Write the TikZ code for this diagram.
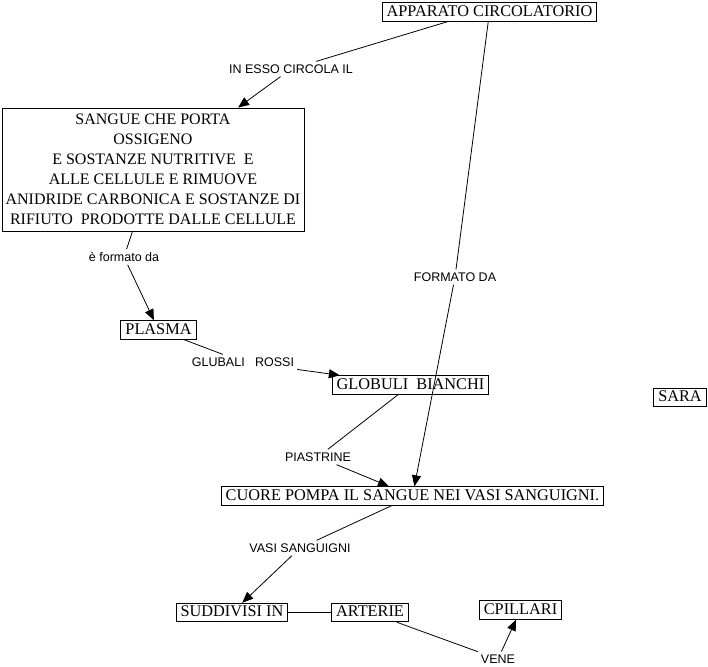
\documentclass[tikz,border=0pt]{standalone}
\usepackage{fontspec}
\setmainfont{Liberation Serif}
\newfontfamily\labelfont{Liberation Sans}
\usetikzlibrary{arrows.meta}

\tikzset{
  conceptbox/.style={draw, line width=0.9pt, inner xsep=4.5pt, inner ysep=2pt,
    font=\fontsize{16.3}{20}\selectfont, text height=11.5pt, text depth=3pt},
  linklabel/.style={inner sep=3pt, font=\labelfont\fontsize{12.5}{14}\selectfont},
  link/.style={line width=0.8pt},
  arrowlink/.style={line width=0.8pt, -{Triangle[length=11pt,width=9pt]}}
}

\begin{document}
\begin{tikzpicture}[x=1pt, y=-1pt]
\useasboundingbox (0,0) rectangle (708,666);

% concetti
\node[conceptbox] (app) at (489.5,12) {APPARATO CIRCOLATORIO};
\node[draw, line width=0.9pt, inner xsep=1pt, minimum width=302pt, minimum height=123pt,
  align=center, font=\fontsize{16}{20}\selectfont] (sangue) at (153,169.5)
  {SANGUE CHE PORTA\\ OSSIGENO\\ E SOSTANZE NUTRITIVE\ \ E\\ ALLE CELLULE E RIMUOVE\\
   ANIDRIDE CARBONICA E SOSTANZE DI\\ RIFIUTO\ \ PRODOTTE DALLE CELLULE\ };
\node[conceptbox] (plasma) at (158.5,330) {PLASMA};
\node[conceptbox] (globuli) at (410.5,385) {GLOBULI\ \ BIANCHI};
\node[conceptbox] (cuore) at (412.5,496) {CUORE POMPA IL SANGUE NEI VASI SANGUIGNI.};
\node[conceptbox] (sara) at (680,397.5) {SARA};
\node[conceptbox] (suddivisi) at (232,612.5) {SUDDIVISI IN};
\node[conceptbox] (arterie) at (370,612.5) {ARTERIE};
\node[conceptbox] (capillari) at (520.5,610) {CPILLARI};

% frasi di collegamento
\node[linklabel] (esso) at (291,69) {IN ESSO CIRCOLA IL};
\node[linklabel] (formato) at (455,277) {FORMATO DA};
\node[linklabel] (formatoda) at (124,257) {è formato da};
\node[linklabel] (rossi) at (243,362) {GLUBALI\ \ \ ROSSI};
\node[linklabel] (piastrine) at (318,457) {PIASTRINE};
\node[linklabel] (vasi) at (300,548) {VASI SANGUIGNI};
\node[linklabel] (vene) at (498,659) {VENE};

% collegamenti
\draw[link] (app.193) -- (esso);
\draw[arrowlink] (esso) -- (sangue);
\draw[link] (app) -- (formato);
\draw[arrowlink] (formato) -- (cuore);
\draw[link] (sangue) -- (formatoda);
\draw[arrowlink] (formatoda) -- (plasma);
\draw[link] (plasma) -- (rossi);
\draw[arrowlink] (rossi) -- (globuli);
\draw[link] (globuli) -- (piastrine);
\draw[arrowlink] (piastrine) -- (cuore);
\draw[link] (cuore) -- (vasi);
\draw[arrowlink] (vasi) -- (suddivisi);
\draw[link] (suddivisi) -- (arterie);
\draw[link] (arterie) -- (vene);
\draw[arrowlink] (vene) -- (capillari);
\end{tikzpicture}
\end{document}
